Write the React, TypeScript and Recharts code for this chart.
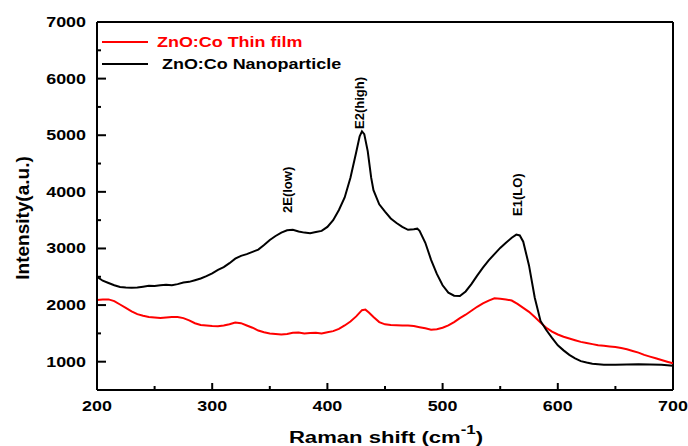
import React from 'react';
import { LineChart, Line, XAxis, YAxis, ReferenceLine, ReferenceDot, Legend } from 'recharts';

const FONT = '"Liberation Sans", Arial, Helvetica, sans-serif';
const SX = 1.28;

const nanoShift = [200, 205, 210, 215, 220, 225, 230, 235, 240, 245, 250, 255, 260, 265, 270, 275, 280, 285, 290, 295, 300, 305, 310, 315, 320, 325, 330, 335, 340, 345, 350, 355, 360, 365, 370, 375, 380, 385, 390, 395, 400, 405, 410, 415, 420, 425, 428, 430, 432, 435, 438, 440, 445, 450, 455, 460, 465, 470, 475, 478, 480, 485, 490, 495, 500, 505, 510, 515, 520, 525, 530, 535, 540, 545, 550, 555, 560, 564, 567, 570, 575, 580, 585, 590, 595, 600, 605, 610, 615, 620, 625, 630, 640, 650, 660, 670, 680, 690, 700];
const nanoIntensity = [2500, 2430, 2390, 2350, 2320, 2310, 2305, 2310, 2325, 2340, 2335, 2350, 2360, 2350, 2370, 2400, 2410, 2440, 2470, 2510, 2560, 2620, 2670, 2740, 2820, 2870, 2900, 2940, 2980, 3060, 3150, 3220, 3280, 3320, 3330, 3300, 3280, 3270, 3290, 3310, 3380, 3500, 3680, 3900, 4250, 4700, 4980, 5070, 5020, 4720, 4250, 4030, 3780, 3650, 3530, 3450, 3380, 3330, 3340, 3350, 3310, 3100, 2800, 2550, 2350, 2220, 2165, 2160, 2240, 2370, 2520, 2660, 2790, 2900, 3010, 3100, 3190, 3245, 3230, 3120, 2700, 2130, 1720, 1560, 1420, 1290, 1200, 1120, 1060, 1010, 985, 965, 945, 945, 950, 955, 950, 945, 930];

const filmShift = [200, 205, 210, 215, 220, 225, 230, 235, 240, 245, 250, 255, 260, 265, 270, 275, 280, 285, 290, 295, 300, 305, 310, 315, 320, 325, 330, 335, 340, 345, 350, 355, 360, 365, 370, 375, 380, 385, 390, 395, 400, 405, 410, 415, 420, 425, 430, 433, 436, 440, 445, 450, 455, 460, 465, 470, 475, 480, 485, 490, 495, 500, 505, 510, 515, 520, 525, 530, 535, 540, 545, 550, 555, 560, 565, 570, 575, 580, 585, 590, 595, 600, 605, 610, 615, 620, 625, 630, 635, 640, 645, 650, 655, 660, 665, 670, 675, 680, 685, 690, 695, 700];
const filmIntensity = [2090, 2100, 2100, 2070, 2010, 1950, 1890, 1840, 1810, 1790, 1780, 1770, 1780, 1790, 1790, 1770, 1730, 1680, 1650, 1640, 1630, 1625, 1640, 1660, 1690, 1680, 1640, 1600, 1550, 1520, 1500, 1490, 1480, 1490, 1510, 1515, 1500, 1505, 1510, 1500, 1520, 1540, 1580, 1640, 1710, 1800, 1910, 1920, 1870, 1790, 1700, 1660, 1650, 1645, 1640, 1640, 1630, 1610, 1590, 1565, 1575, 1600, 1640, 1700, 1770, 1830, 1900, 1970, 2030, 2080, 2120, 2110, 2100, 2080, 2020, 1950, 1880, 1790, 1690, 1600, 1530, 1480, 1440, 1410, 1380, 1350, 1330, 1310, 1290, 1280, 1270, 1260, 1240, 1220, 1190, 1160, 1120, 1090, 1060, 1030, 1000, 970];

const xTicks = [200, 250, 300, 350, 400, 450, 500, 550, 600, 650, 700];
const yTicks = [1000, 1500, 2000, 2500, 3000, 3500, 4000, 4500, 5000, 5500, 6000, 6500, 7000];
const seriesNames = ['ZnO:Co Thin film', 'ZnO:Co Nanoparticle'];
const seriesColors = ['#ff0000', '#000000'];
const peakShift = [365, 428, 565];
const peakIntensity = [4035, 5570, 3950];
const peakText = ['2E(low)', 'E2(high)', 'E1(LO)'];

const nanoData = nanoShift.map((s, i) => ({ shift: s, nano: nanoIntensity[i] }));
const filmData = filmShift.map((s, i) => ({ shift: s, film: filmIntensity[i] }));

const XTick = (props: any) => {
  const { x, y, payload } = props;
  const v = payload.value;
  const major = v % 100 === 0;
  const ay = y - 8;
  return (
    <g>
      <line x1={x} x2={x} y1={ay} y2={ay - (major ? 7 : 4)} stroke="#000" strokeWidth={2} />
      {major && (
        <text transform={`translate(${x} ${ay + 21}) scale(${SX} 1)`} textAnchor="middle" fontFamily={FONT} fontWeight="bold" fontSize={14} fill="#000">
          {v}
        </text>
      )}
    </g>
  );
};

const YTick = (props: any) => {
  const { x, y, payload } = props;
  const v = payload.value;
  const major = v % 1000 === 0;
  const ax = x + 10;
  return (
    <g>
      <line x1={ax} x2={ax + (major ? 9 : 4)} y1={y} y2={y} stroke="#000" strokeWidth={2} />
      {major && (
        <text transform={`translate(${ax - 11} ${y + 5}) scale(${SX} 1)`} textAnchor="end" fontFamily={FONT} fontWeight="bold" fontSize={14} fill="#000">
          {v}
        </text>
      )}
    </g>
  );
};

const YLabel = (props: any) => {
  const vb = props.viewBox || { x: 0, y: 22, width: 97, height: 368 };
  const cx = vb.x + 22;
  const cy = vb.y + vb.height / 2 + 12;
  return (
    <text transform={`rotate(-90 ${cx} ${cy})`} x={cx} y={cy} textAnchor="middle" dominantBaseline="central" fontFamily={FONT} fontWeight="bold" fontSize={19} fill="#000">
      Intensity(a.u.)
    </text>
  );
};

const XLabel = (props: any) => {
  const vb = props.viewBox || { x: 97, y: 390, width: 576, height: 56 };
  const cx = vb.x + vb.width / 2 + 1;
  const by = vb.y + 53;
  return (
    <text transform={`translate(${cx} ${by}) scale(1.3 1)`} textAnchor="middle" fontFamily={FONT} fontWeight="bold" fontSize={17} fill="#000">
      <tspan>Raman shift (cm</tspan>
      <tspan dy={-9} fontSize={13}>-1</tspan>
      <tspan dy={9}>)</tspan>
    </text>
  );
};

const PeakLabel = (props: any) => {
  const vb = props.viewBox;
  if (!vb) return null;
  const cx = vb.x + (vb.width || 0) / 2;
  const cy = vb.y + (vb.height || 0) / 2;
  return (
    <text transform={`rotate(-90 ${cx} ${cy})`} x={cx} y={cy} textAnchor="middle" dominantBaseline="central" fontFamily={FONT} fontWeight="bold" fontSize={13} fill="#000">
      {props.text}
    </text>
  );
};

const LegendBox = () => (
  <div style={{ fontFamily: FONT, fontWeight: 'bold', fontSize: 14 }}>
    {seriesNames.map((n, i) => (
      <div key={n} style={{ display: 'flex', alignItems: 'center', height: 22 }}>
        <svg width={48} height={4} style={{ display: 'block' }}>
          <line x1={0} x2={46} y1={2} y2={2} stroke={seriesColors[i]} strokeWidth={2} />
        </svg>
        <span
          style={{
            color: seriesColors[i],
            marginLeft: i === 0 ? 7 : 12,
            display: 'inline-block',
            transform: `scaleX(${SX})`,
            transformOrigin: 'left center',
            whiteSpace: 'nowrap',
          }}
        >
          {n}
        </span>
      </div>
    ))}
  </div>
);

export default function App() {
  return (
    <div style={{ position: 'absolute', left: 0, top: 0, background: '#fff' }}>
      <LineChart width={688} height={446} margin={{ top: 22, right: 15, left: 0, bottom: 0 }}>
        <XAxis
          dataKey="shift"
          type="number"
          domain={[200, 700]}
          ticks={xTicks}
          allowDataOverflow
          height={56}
          tickSize={0}
          tickMargin={8}
          tickLine={false}
          axisLine={{ stroke: '#000', strokeWidth: 2 }}
          tick={<XTick />}
          interval={0}
          label={<XLabel />}
        />
        <YAxis
          type="number"
          domain={[500, 7000]}
          ticks={yTicks}
          allowDataOverflow
          width={97}
          tickSize={0}
          tickMargin={10}
          tickLine={false}
          axisLine={{ stroke: '#000', strokeWidth: 2 }}
          tick={<YTick />}
          interval={0}
          label={<YLabel />}
        />
        <ReferenceLine y={7000} stroke="#000" strokeWidth={2} ifOverflow="extendDomain" />
        <ReferenceLine x={700} stroke="#000" strokeWidth={2} ifOverflow="extendDomain" />
        <Legend
          layout="vertical"
          align="center"
          verticalAlign="middle"
          wrapperStyle={{ position: 'absolute', left: 102, top: 31, width: 300 }}
          content={<LegendBox />}
        />
        <Line
          data={filmData}
          dataKey="film"
          name={seriesNames[0]}
          stroke={seriesColors[0]}
          strokeWidth={2}
          dot={false}
          activeDot={false}
          type="linear"
          isAnimationActive={false}
        />
        <Line
          data={nanoData}
          dataKey="nano"
          name={seriesNames[1]}
          stroke={seriesColors[1]}
          strokeWidth={2}
          dot={false}
          activeDot={false}
          type="linear"
          isAnimationActive={false}
        />
        {peakText.map((t, i) => (
          <ReferenceDot
            key={t}
            x={peakShift[i]}
            y={peakIntensity[i]}
            r={1}
            fill="none"
            stroke="none"
            label={<PeakLabel text={t} />}
          />
        ))}
      </LineChart>
    </div>
  );
}
